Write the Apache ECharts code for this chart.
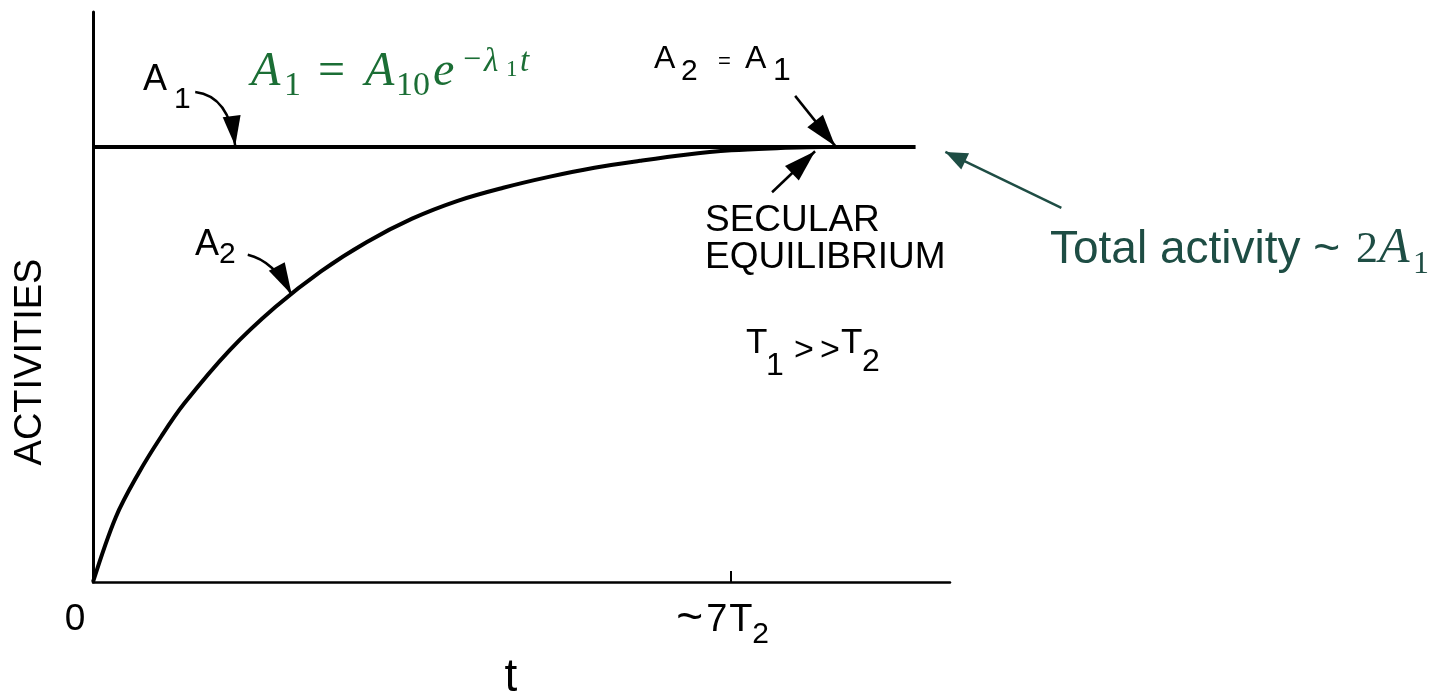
<!DOCTYPE html>
<html>
<head>
<meta charset="utf-8">
<script src="https://cdn.jsdelivr.net/npm/echarts@6/dist/echarts.min.js"></script>
<style>
  html, body { margin: 0; padding: 0; background: #ffffff; }
  #chart { width: 1456px; height: 693px; }
</style>
</head>
<body>
<div id="chart"></div>
<script>
// Time is measured in daughter half-lives (T2); activities are relative to A1.
const A1_T = [0, 9.02];
const A1_VALUES = [1, 1];

const A2_T = [0, 0.25, 0.5, 0.75, 1.0, 1.5, 2.0, 2.5, 3.0, 3.5, 4.0, 4.5, 5.0, 5.5, 6.0, 6.5, 7.0, 7.5, 8.0, 9.02];
const A2_VALUES = [0, 0.149, 0.25, 0.335, 0.41, 0.533, 0.632, 0.714, 0.781, 0.835, 0.876, 0.906, 0.931, 0.952, 0.968, 0.982, 0.992, 0.997, 1.0, 1.0];

const X_TICK_VALUES = [7];
const X_LABEL_VALUES = [0, 7];
const X_LABEL_MAIN = ['0', '~7T'];
const X_LABEL_SUB = ['', '2'];

const X_NAME = 't';
const Y_NAME = 'ACTIVITIES';

const INK = '#000000';
const FORMULA_GREEN = '#1b6e35';
const NOTE_GREEN = '#1e4d44';
const SANS = '"Liberation Sans", Arial, sans-serif';
const SERIF = '"Liberation Serif", "Times New Roman", serif';

const chart = echarts.init(document.getElementById('chart'), null, { renderer: 'canvas' });

chart.setOption({
  backgroundColor: '#ffffff',
  animation: false,
  grid: { left: 93, right: 506, top: 12, bottom: 111 },
  xAxis: {
    type: 'value',
    min: 0,
    max: 9.4,
    axisLine: { lineStyle: { color: INK, width: 2.5 } },
    axisTick: {
      show: true, inside: true, length: 11,
      customValues: X_TICK_VALUES,
      lineStyle: { color: INK, width: 2 }
    },
    axisLabel: { show: false },
    splitLine: { show: false }
  },
  yAxis: {
    type: 'value',
    min: 0,
    max: 1.31,
    axisLine: { show: true, lineStyle: { color: INK, width: 3 } },
    axisTick: { show: false },
    axisLabel: { show: false },
    splitLine: { show: false }
  },
  series: [
    {
      name: 'A1',
      type: 'line',
      data: A1_T.map((t, i) => [t, A1_VALUES[i]]),
      symbol: 'none',
      lineStyle: { color: INK, width: 4 },
      z: 3
    },
    {
      name: 'A2',
      type: 'line',
      data: A2_T.map((t, i) => [t, A2_VALUES[i]]),
      symbol: 'none',
      smooth: 0.35,
      lineStyle: { color: INK, width: 4 },
      z: 3
    }
  ]
});

// ---------- annotation helpers ----------
function px(x, y) { return chart.convertToPixel({ gridIndex: 0 }, [x, y]); }

// text piece placed by its left edge and baseline
function piece(x, baseline, text, size, opt) {
  opt = opt || {};
  return {
    type: 'text',
    z: 10,
    style: {
      x: x,
      y: baseline - 0.33 * size,
      text: text,
      fontSize: size,
      fontFamily: opt.family || SANS,
      fontStyle: opt.italic ? 'italic' : 'normal',
      fontWeight: opt.bold ? 'bold' : 'normal',
      fill: opt.color || INK,
      align: opt.align || 'left',
      textAlign: opt.align || 'left',
      verticalAlign: 'middle',
      textVerticalAlign: 'middle'
    }
  };
}

function head(tip, from, len, halfW, color) {
  const dx = tip[0] - from[0], dy = tip[1] - from[1];
  const d = Math.hypot(dx, dy) || 1;
  const ux = dx / d, uy = dy / d;
  const bx = tip[0] - ux * len, by = tip[1] - uy * len;
  const nx = -uy, ny = ux;
  return {
    type: 'polygon', z: 11,
    shape: { points: [tip, [bx + nx * halfW, by + ny * halfW], [bx - nx * halfW, by - ny * halfW]] },
    style: { fill: color || INK }
  };
}

function curvedArrow(tip, tailOff, ctrlOff, color, width, len, halfW) {
  const tail = [tip[0] + tailOff[0], tip[1] + tailOff[1]];
  const cp = [tip[0] + ctrlOff[0], tip[1] + ctrlOff[1]];
  return [
    {
      type: 'bezierCurve', z: 11,
      shape: { x1: tail[0], y1: tail[1], x2: tip[0], y2: tip[1], cpx1: cp[0], cpy1: cp[1] },
      style: { stroke: color || INK, lineWidth: width, fill: null }
    },
    head(tip, cp, len, halfW, color)
  ];
}

function straightArrow(tip, tailOff, color, width, len, halfW) {
  const tail = [tip[0] + tailOff[0], tip[1] + tailOff[1]];
  return [
    {
      type: 'line', z: 11,
      shape: { x1: tail[0], y1: tail[1], x2: tip[0], y2: tip[1] },
      style: { stroke: color || INK, lineWidth: width }
    },
    head(tip, tail, len, halfW, color)
  ];
}

function drawAnnotations() {
  const g = [];

  // curve labels with pointers
  const tipA1 = px(1.56, 1.0); tipA1[1] -= 1;
  g.push(piece(143, 92, 'A', 36));
  g.push(piece(174, 110, '1', 30));
  g.push(...curvedArrow(tipA1, [-40, -54], [-6, -50], INK, 2.5, 30, 9));

  const tipA2 = px(2.18, 0.66);
  g.push(piece(195, 257, 'A', 36));
  g.push(piece(219, 265, '2', 30));
  g.push(...curvedArrow(tipA2, [-44, -40], [-18, -34], INK, 2.5, 32, 9));

  const tipEq = px(8.14, 1.0); tipEq[1] -= 1;
  g.push(piece(654, 70, 'A', 32));
  g.push(piece(681, 82, '2', 30));
  g.push(piece(718, 69, '=', 22));
  g.push(piece(745, 70, 'A', 32));
  g.push(piece(773, 82, '1', 32));
  g.push(...straightArrow(tipEq, [-40, -50], INK, 2.5, 32, 10));

  const tipSec = px(7.92, 0.99);
  g.push(...straightArrow(tipSec, [-43, 41], INK, 2.5, 32, 10));
  g.push(piece(705, 233, 'SECULAR', 37));
  g.push(piece(705, 270, 'EQUILIBRIUM', 37));

  // half-life relation
  g.push(piece(746, 355, 'T', 35));
  g.push(piece(766, 377, '1', 32));
  g.push(piece(794, 362, '>', 34));
  g.push(piece(820, 362, '>', 34));
  g.push(piece(841, 355, 'T', 35));
  g.push(piece(862, 373, '2', 32));

  // x tick labels, anchored to their axis values
  const origin = px(X_LABEL_VALUES[0], 0);
  g.push(piece(origin[0] - 18, origin[1] + 50, X_LABEL_MAIN[0], 37, { align: 'center' }));
  const t7 = px(X_LABEL_VALUES[1], 0);
  const mainText = X_LABEL_MAIN[1];
  g.push(piece(t7[0] - 55, t7[1] + 52, mainText.charAt(0), 46));
  g.push(piece(t7[0] - 25, t7[1] + 51, mainText.charAt(1), 38));
  g.push(piece(t7[0] - 2, t7[1] + 51, mainText.charAt(2), 38));
  g.push(piece(t7[0] + 21, t7[1] + 63, X_LABEL_SUB[1], 30));

  // axis names
  g.push(piece(511, 693, X_NAME, 46, { align: 'center' }));
  g.push({
    type: 'text', z: 10, x: 31, y: 362, rotation: Math.PI / 2,
    style: {
      x: 0, y: 0, text: Y_NAME, fontSize: 38, fontFamily: SANS, fill: INK,
      align: 'center', textAlign: 'center', verticalAlign: 'middle', textVerticalAlign: 'middle'
    }
  });

  // decay law of the parent
  g.push(piece(251, 88, 'A', 48, { family: SERIF, italic: true, color: FORMULA_GREEN }));
  g.push(piece(284, 97, '1', 34, { family: SERIF, color: FORMULA_GREEN }));
  g.push(piece(318, 88, '=', 48, { family: SERIF, color: FORMULA_GREEN }));
  g.push(piece(365, 88, 'A', 48, { family: SERIF, italic: true, color: FORMULA_GREEN }));
  g.push(piece(396, 97, '10', 34, { family: SERIF, color: FORMULA_GREEN }));
  g.push(piece(433, 88, 'e', 48, { family: SERIF, italic: true, color: FORMULA_GREEN }));
  g.push(piece(463, 71, '\u2212', 32, { family: SERIF, color: FORMULA_GREEN }));
  g.push(piece(484, 73, '\u03bb', 33, { family: SERIF, italic: true, color: FORMULA_GREEN }));
  g.push(piece(506, 78, '1', 23, { family: SERIF, color: FORMULA_GREEN }));
  g.push(piece(520, 73, 't', 33, { family: SERIF, italic: true, color: FORMULA_GREEN }));

  // total activity note
  const lineEnd = px(A1_T[1], A1_VALUES[1]);
  const noteTip = [lineEnd[0] + 30, lineEnd[1] + 5];
  g.push(...straightArrow(noteTip, [116, 56], NOTE_GREEN, 2.5, 22, 9));
  g.push(piece(1050, 265, 'Total activity ~', 46, { color: NOTE_GREEN }));
  g.push(piece(1356, 265, '2', 44, { family: SERIF, color: NOTE_GREEN }));
  g.push(piece(1379, 265, 'A', 50, { family: SERIF, italic: true, color: NOTE_GREEN }));
  g.push(piece(1413, 275, '1', 32, { family: SERIF, color: NOTE_GREEN }));

  chart.setOption({ graphic: { elements: g } });
}

drawAnnotations();
</script>
</body>
</html>
